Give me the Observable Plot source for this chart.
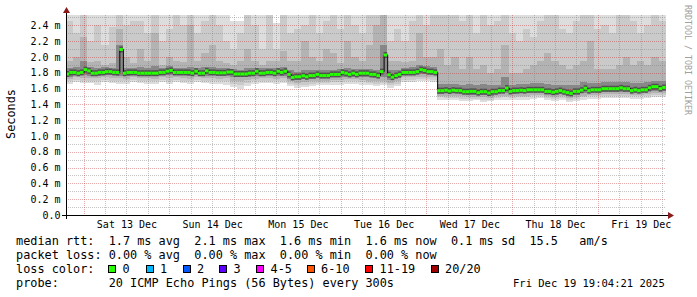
<!DOCTYPE html>
<html><head><meta charset="utf-8">
<script src="https://cdn.jsdelivr.net/npm/d3@7"></script>
<script src="https://cdn.jsdelivr.net/npm/@observablehq/plot@0.6"></script>
<style>
body{margin:0;background:#fff;}
#wrap{position:relative;width:697px;height:297px;overflow:hidden;background:#fff;font-family:"DejaVu Sans Mono",monospace;color:#000;}
#wrap svg{position:absolute;left:0;top:0;}
.lg{position:absolute;white-space:pre;font-size:11.85px;line-height:14px;}
.sq{position:absolute;width:6px;height:6px;border:1px solid #000;}
</style></head><body><div id="wrap"></div>
<script>
// ---- data (ms) ----
// hourly median RTT, starting Fri 12 Dec 19:00
const medianRtt = [
1.79,1.81,1.81,1.80,1.81,1.845,1.83,1.80,1.80,1.81,1.81,1.82,
1.82,1.81,1.81,2.10,1.80,1.81,1.81,1.81,1.80,1.80,1.80,1.80,
1.80,1.80,1.81,1.81,1.825,1.835,1.81,1.81,1.81,1.81,1.81,1.80,
1.825,1.80,1.80,1.83,1.81,1.81,1.805,1.805,1.805,1.815,1.815,1.79,
1.79,1.79,1.79,1.80,1.80,1.825,1.80,1.80,1.81,1.81,1.80,1.825,
1.81,1.825,1.785,1.747,1.755,1.755,1.768,1.755,1.77,1.77,1.785,1.77,
1.77,1.77,1.785,1.785,1.785,1.81,1.80,1.785,1.80,1.785,1.80,1.80,
1.80,1.785,1.785,1.77,1.82,2.03,1.78,1.75,1.77,1.785,1.81,1.81,
1.81,1.81,1.82,1.845,1.835,1.82,1.82,1.81,1.579,1.579,1.585,1.575,
1.585,1.58,1.58,1.566,1.566,1.57,1.57,1.554,1.566,1.566,1.55,1.566,
1.566,1.58,1.58,1.612,1.57,1.58,1.58,1.585,1.58,1.59,1.59,1.59,
1.59,1.59,1.57,1.57,1.56,1.57,1.58,1.566,1.555,1.545,1.57,1.57,
1.585,1.61,1.58,1.59,1.59,1.59,1.604,1.604,1.604,1.604,1.604,1.615,
1.604,1.604,1.58,1.59,1.58,1.59,1.59,1.615,1.63,1.63,1.605,1.62,
1.62];
// smoke bands, 2-hour buckets starting Fri 12 Dec 19:00
const smokeTop1 = [
2.6,2.6,2.6,2.6,2.6,2.6,2.6,2.6,2.6,2.6,
2.6,2.6,2.6,2.6,2.6,2.6,2.6,2.6,2.6,2.6,
2.6,2.6,2.6,2.46,2.45,2.6,2.6,2.6,2.6,2.43,
2.6,2.6,2.6,2.6,2.6,2.6,2.6,2.6,2.6,2.6,
2.6,2.6,2.6,2.6,2.6,2.6,2.6,2.6,2.6,2.6,
2.6,2.6,2.6,2.6,2.6,2.6,2.6,2.6,2.6,2.6,
2.6,2.6,2.6,2.6,2.6,2.6,2.6,2.6,2.6,2.6,
2.6,2.6,2.6,2.6,2.6,2.6,2.6,2.6,2.6,2.6,
2.6,2.6,2.6,2.6,2.6];
const smokeTop2 = [
2.45,2.30,2.6,2.20,2.40,2.15,2.38,2.6,2.40,2.45,
2.45,2.30,2.6,2.20,2.35,2.6,2.40,2.6,2.30,2.45,
2.6,2.40,2.20,2.10,2.30,2.6,2.40,2.10,2.6,2.10,
2.6,2.30,2.35,2.40,2.6,2.30,2.45,2.6,2.35,2.6,
2.40,2.30,2.6,2.6,2.6,2.20,2.35,2.20,2.45,2.6,
2.40,2.6,2.6,2.6,2.6,2.45,2.6,2.30,2.6,2.40,
2.45,2.6,2.30,2.20,2.35,2.25,2.45,2.6,2.6,2.35,
2.30,2.45,2.6,2.6,2.35,2.40,2.30,2.6,2.6,2.45,
2.30,2.40,2.6,2.45,2.45];
const smokeTop3 = [
1.95,2.00,2.25,1.93,1.95,1.90,1.92,2.35,2.00,1.92,
2.10,1.95,2.30,1.90,2.00,1.95,1.93,2.40,1.95,2.05,
2.15,1.95,1.92,1.90,1.95,2.10,1.95,1.90,1.95,1.95,
2.08,1.95,1.95,2.20,2.00,1.95,2.10,2.05,1.92,2.20,
2.00,1.95,2.15,2.40,2.6,1.95,1.95,1.93,1.95,2.30,
2.00,2.00,2.10,1.90,2.00,1.85,2.00,1.85,1.90,1.80,
1.85,2.15,1.80,1.80,1.85,1.90,1.95,2.05,1.95,1.90,
1.85,1.90,1.95,2.20,1.85,1.85,1.85,1.90,2.00,1.90,
1.95,1.90,2.00,1.95,1.95];
const smokeTop4 = [
1.86,1.87,1.95,1.87,1.86,1.87,1.86,2.15,1.86,1.86,
1.87,1.86,1.88,1.86,1.88,1.86,1.86,1.87,1.86,1.87,
1.87,1.86,1.86,1.85,1.84,1.86,1.86,1.86,1.86,1.86,
1.87,1.83,1.81,1.83,1.83,1.84,1.83,1.84,1.85,1.86,
1.85,1.85,1.85,1.84,2.15,1.83,1.84,1.86,1.87,1.90,
1.89,1.87,1.66,1.66,1.66,1.65,1.66,1.64,1.66,1.64,
1.65,1.75,1.65,1.66,1.66,1.67,1.67,1.66,1.65,1.65,
1.64,1.64,1.68,1.67,1.67,1.68,1.68,1.68,1.68,1.67,
1.67,1.68,1.70,1.69,1.69];
const smokeBot4 = [
1.75,1.77,1.77,1.76,1.76,1.77,1.77,1.76,1.76,1.77,
1.76,1.76,1.76,1.77,1.77,1.77,1.77,1.76,1.77,1.76,
1.77,1.76,1.76,1.74,1.74,1.75,1.76,1.76,1.77,1.76,
1.76,1.72,1.71,1.72,1.72,1.73,1.73,1.74,1.74,1.75,
1.75,1.75,1.74,1.73,1.74,1.71,1.73,1.77,1.77,1.78,
1.78,1.77,1.53,1.54,1.54,1.53,1.52,1.52,1.52,1.51,
1.53,1.54,1.53,1.54,1.54,1.55,1.55,1.53,1.52,1.53,
1.51,1.52,1.54,1.55,1.55,1.56,1.56,1.56,1.56,1.55,
1.55,1.56,1.57,1.57,1.57];
const smokeBot3 = [
1.72,1.74,1.73,1.73,1.73,1.74,1.73,1.73,1.72,1.74,
1.73,1.73,1.72,1.74,1.73,1.74,1.73,1.72,1.74,1.73,
1.73,1.72,1.73,1.70,1.69,1.71,1.72,1.73,1.73,1.72,
1.73,1.69,1.67,1.68,1.69,1.70,1.70,1.71,1.71,1.72,
1.72,1.71,1.70,1.69,1.70,1.67,1.69,1.74,1.74,1.75,
1.75,1.74,1.51,1.51,1.51,1.50,1.49,1.49,1.49,1.48,
1.50,1.51,1.50,1.51,1.51,1.52,1.52,1.50,1.49,1.50,
1.48,1.49,1.51,1.52,1.52,1.53,1.53,1.53,1.53,1.52,
1.52,1.53,1.54,1.54,1.54];
const smokeBot2 = [
1.69,1.71,1.70,1.70,1.69,1.71,1.70,1.70,1.69,1.71,
1.70,1.70,1.69,1.71,1.70,1.71,1.70,1.69,1.71,1.70,
1.70,1.69,1.69,1.66,1.65,1.67,1.69,1.70,1.70,1.69,
1.70,1.66,1.64,1.65,1.66,1.67,1.67,1.68,1.68,1.69,
1.69,1.68,1.67,1.66,1.67,1.64,1.66,1.71,1.71,1.72,
1.72,1.71,1.49,1.48,1.48,1.47,1.47,1.47,1.46,1.46,
1.48,1.49,1.48,1.49,1.49,1.50,1.50,1.48,1.47,1.48,
1.46,1.47,1.49,1.50,1.50,1.51,1.51,1.51,1.51,1.50,
1.50,1.51,1.52,1.52,1.52];
const smokeBot1 = [
1.66,1.68,1.67,1.67,1.65,1.68,1.67,1.66,1.66,1.68,
1.67,1.66,1.66,1.68,1.66,1.68,1.67,1.66,1.68,1.67,
1.66,1.66,1.65,1.62,1.60,1.63,1.66,1.67,1.67,1.66,
1.67,1.63,1.61,1.62,1.63,1.64,1.64,1.65,1.65,1.66,
1.66,1.65,1.64,1.63,1.64,1.61,1.63,1.68,1.68,1.69,
1.69,1.68,1.46,1.45,1.45,1.44,1.44,1.45,1.43,1.44,
1.45,1.46,1.45,1.46,1.46,1.47,1.48,1.45,1.44,1.45,
1.43,1.44,1.46,1.47,1.47,1.48,1.48,1.48,1.48,1.47,
1.47,1.48,1.49,1.49,1.49];

const yTicks = [0,0.2,0.4,0.6,0.8,1.0,1.2,1.4,1.6,1.8,2.0,2.2,2.4];
const yTickLabels = ["0.0","0.2 m","0.4 m","0.6 m","0.8 m","1.0 m","1.2 m","1.4 m","1.6 m","1.8 m","2.0 m","2.2 m","2.4 m"];
const yMinorTicks = [0.1,0.3,0.5,0.7,0.9,1.1,1.3,1.5,1.7,1.9,2.1,2.3,2.5];
const dayDates = ["2025-12-13","2025-12-14","2025-12-15","2025-12-16","2025-12-17","2025-12-18","2025-12-19"];
const dayLabels = ["Sat 13 Dec","Sun 14 Dec","Mon 15 Dec","Tue 16 Dec","Wed 17 Dec","Thu 18 Dec","Fri 19 Dec"];
const lossLabels = ["0","1","2","3","4-5","6-10","11-19","20/20"];
const lossColors = ["#26ff00","#00b8ff","#0059ff","#5e00ff","#ff00ff","#ff5500","#ff0000","#a10000"];
const legendRows = [
  "median rtt:  1.7 ms avg  2.1 ms max  1.6 ms min  1.6 ms now  0.1 ms sd  15.5   am/s",
  "packet loss: 0.00 % avg  0.00 % max  0.00 % min  0.00 % now",
  "loss color:",
  "probe:       20 ICMP Echo Pings (56 Bytes) every 300s"
];
const stamp = "Fri Dec 19 19:04:21 2025";

// ---- build ----
const H = 3600e3;
const t0 = Date.UTC(2025, 11, 12, 19);
const start = new Date(Date.UTC(2025, 11, 12, 19, 4, 21));
const end = new Date(Date.UTC(2025, 11, 19, 19, 4, 21));

const med = medianRtt.map((v, i) => ({a: new Date(t0 + i * H), b: new Date(t0 + (i + 1) * H), v}));
const medLine = med.map(d => ({t: d.a, v: d.v})).concat([{t: med[med.length - 1].b, v: med[med.length - 1].v}]);
const smoke = smokeTop1.map((_, k) => ({
  a: new Date(t0 + 2 * k * H), b: new Date(t0 + 2 * (k + 1) * H),
  t1: smokeTop1[k], t2: smokeTop2[k], t3: smokeTop3[k], t4: smokeTop4[k],
  b1: smokeBot1[k], b2: smokeBot2[k], b3: smokeBot3[k], b4: smokeBot4[k]
}));
const majorTimes = dayDates.map(d => new Date(d + "T00:00:00Z"));
const labelTimes = dayDates.map(d => new Date(d + "T12:00:00Z"));
const labelMap = new Map(labelTimes.map((d, i) => [+d, dayLabels[i]]));
const minorTimes = d3.utcHour.every(6).range(start, end).filter(d => d.getUTCHours() !== 0);

const band = (y1, y2, fill) => Plot.rect(smoke, {x1: "a", x2: "b", y1, y2, fill, clip: true, shapeRendering: "crispEdges"});
const gridMinor = {stroke: "#7f7f7f", strokeOpacity: 0.45, strokeDasharray: "1,1", shapeRendering: "crispEdges"};
const gridMajor = {stroke: "#c02020", strokeOpacity: 0.38, strokeDasharray: "1,1", shapeRendering: "crispEdges"};

const chart = Plot.plot({
  width: 697, height: 232,
  marginLeft: 66, marginRight: 31, marginTop: 15, marginBottom: 17,
  style: {fontFamily: "DejaVu Sans Mono", fontSize: "10px", background: "white", color: "black", overflow: "visible"},
  x: {type: "utc", domain: [start, end]},
  y: {domain: [0, 2.53]},
  marks: [
    band("b1", "t1", "#dddddd"),
    band("b2", "t2", "#cacaca"),
    band("b3", "t3", "#b3b3b3"),
    band("b4", "t4", "#888888"),
    Plot.ruleY(yMinorTicks, gridMinor),
    Plot.ruleY(yTicks.slice(1), gridMajor),
    Plot.ruleX(minorTimes, gridMinor),
    Plot.ruleX(majorTimes, gridMajor),
    Plot.ruleY(med, {x1: "a", x2: "b", y: "v", stroke: "#505050", strokeWidth: 6, clip: true}),
    Plot.line(medLine, {x: "t", y: "v", curve: "step-after", stroke: "#000", strokeWidth: 1, clip: true}),
    Plot.ruleY(med, {x1: "a", x2: "b", y: "v", stroke: "#26ff00", strokeWidth: 3, clip: true}),
    Plot.axisY({ticks: yTicks, tickSize: 0, tickPadding: 6, label: null, tickFormat: d => yTickLabels[yTicks.indexOf(d)]}),
    Plot.axisX({ticks: labelTimes, tickSize: 0, tickPadding: 5.5, label: null, tickFormat: d => labelMap.get(+d)})
  ]
});

const wrap = document.getElementById("wrap");
wrap.appendChild(chart);

// axes with arrows, labels
const svg = d3.select(chart);
const xs = chart.scale("x"), ys = chart.scale("y");
const X0 = xs.apply(start), X1 = xs.apply(end), Y0 = ys.apply(0);
const ax = svg.append("g");
ax.append("line").attr("x1", X0 - 4).attr("x2", X1 + 2).attr("y1", Y0 + 0.5).attr("y2", Y0 + 0.5).attr("stroke", "#000");
ax.append("line").attr("x1", X0 + 0.5).attr("x2", X0 + 0.5).attr("y1", Y0 + 4).attr("y2", 12).attr("stroke", "#000");
ax.append("path").attr("d", `M${X0 + 0.5},7L${X0 + 4},13L${X0 - 3},13Z`).attr("fill", "#8b1a1a");
ax.append("path").attr("d", `M${X1 + 8},${Y0 + 0.5}L${X1 + 2},${Y0 - 3}L${X1 + 2},${Y0 + 4}Z`).attr("fill", "#8b1a1a");
svg.append("text").attr("transform", "translate(11,114) rotate(-90)").attr("text-anchor", "middle").attr("dy", "0.36em")
  .attr("font-family", "DejaVu Sans Mono").attr("font-size", "11.85px").attr("fill", "#000").text("Seconds");
svg.append("text").attr("transform", "translate(688,60) rotate(90)").attr("text-anchor", "middle").attr("dy", "0.36em")
  .attr("font-family", "DejaVu Sans Mono").attr("font-size", "8.3px").attr("fill", "#a0a0a0").text("RRDTOOL / TOBI OETIKER");

// legend
const tops = [234.4, 248.1, 261.9, 275.5];
legendRows.forEach((r, i) => {
  const d = document.createElement("div");
  d.className = "lg"; d.style.left = "16px"; d.style.top = tops[i] + "px"; d.textContent = r;
  wrap.appendChild(d);
});
const sqX = [108, 145.5, 182.5, 219, 256, 306.5, 365, 430.5];
lossLabels.forEach((l, i) => {
  const s = document.createElement("div");
  s.className = "sq"; s.style.left = sqX[i] + "px"; s.style.top = "265px"; s.style.background = lossColors[i];
  wrap.appendChild(s);
  const t = document.createElement("div");
  t.className = "lg"; t.style.left = (sqX[i] + 14.5) + "px"; t.style.top = tops[2] + "px"; t.textContent = l;
  wrap.appendChild(t);
});
const st = document.createElement("div");
st.className = "lg"; st.style.fontSize = "10.5px"; st.style.left = "513px"; st.style.top = "276px"; st.textContent = stamp;
wrap.appendChild(st);
</script></body></html>
